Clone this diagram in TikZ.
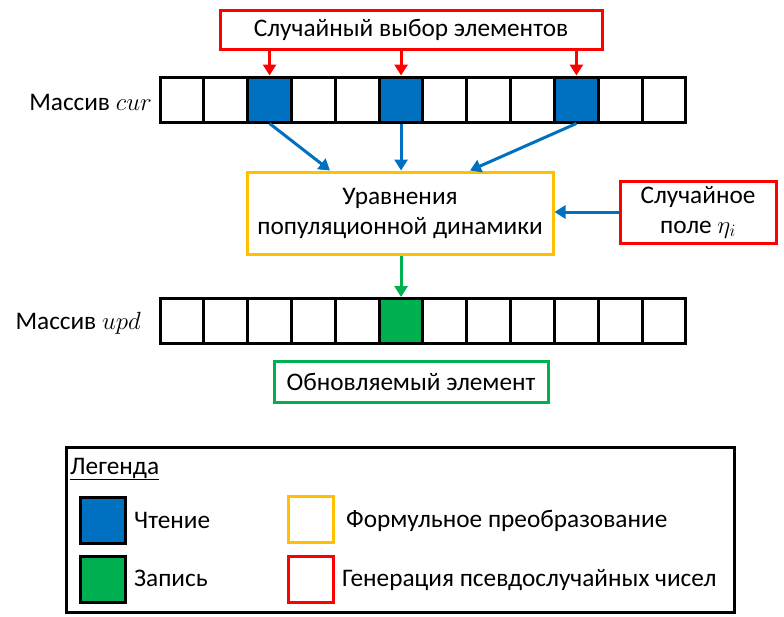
\documentclass[tikz,border=0pt]{standalone}
\usepackage{fontspec}
\setmainfont{Carlito}
\usetikzlibrary{arrows.meta,calc}
\definecolor{cblue}{HTML}{0070C0}
\definecolor{cgreen}{HTML}{00B050}
\definecolor{cred}{HTML}{FF0000}
\definecolor{cyellow}{HTML}{FFC000}
\tikzset{
  cell/.style={draw=black, line width=3pt, minimum width=43.83pt, minimum height=45pt, inner sep=0pt, fill=white},
  boxr/.style={draw=cred, line width=3pt, inner sep=0pt, fill=white, align=center},
  boxy/.style={draw=cyellow, line width=3pt, inner sep=0pt, fill=white, align=center},
  boxg/.style={draw=cgreen, line width=3pt, inner sep=0pt, fill=white, align=center},
  txt/.style={font=\fontsize{25.3}{30}\selectfont},
  arr/.style={line width=3pt, -{Triangle[length=11pt,width=13pt]}},
  leg/.style={line width=3pt, minimum width=45pt, minimum height=46pt, inner sep=0pt},
}
\begin{document}
\begin{tikzpicture}[x=1pt,y=-1pt]
\useasboundingbox (0,0) rectangle (784,616);
% top selection box
\node[boxr, txt, minimum width=382pt, minimum height=39pt] (sel) at (411,29.5) {Случайный выбор элементов};
% arrays
\foreach \i in {1,...,12} {
  \node[cell] (cur\i) at ({160+43.83*(\i-0.5)},99.5) {};
  \node[cell] (upd\i) at ({160+43.83*(\i-0.5)},321) {};
}
\foreach \i in {3,6,10} { \node[cell, fill=cblue] at (cur\i) {}; }
\node[cell, fill=cgreen] at (upd6) {};
\node[txt, anchor=east, inner sep=0pt] (lcur) at (152,102) {Массив $cur$};
\node[txt, anchor=east, inner sep=0pt] (lupd) at (141,323) {Массив $upd$};
% equation box
\node[boxy, txt, minimum width=306pt, minimum height=82pt] (eq) at (400,213) {Уравнения\\популяционной динамики};
\node[boxr, txt, minimum width=156pt, minimum height=62pt] (rnd) at (698,212) {Случайное\\поле $\eta_i$};
\node[boxg, txt, minimum width=274pt, minimum height=41pt] (upde) at (411,381.5) {Обновляемый элемент};
% arrows
\foreach \i in {3,6,10} { \draw[arr, cred] (sel.south -| cur\i) -- (cur\i.north); }
\draw[arr, cblue] (cur3.south) -- ([xshift=-70pt]eq.north);
\draw[arr, cblue] (cur6.south) -- (cur6.south |- eq.north);
\draw[arr, cblue] (cur10.south) -- ([xshift=70pt]eq.north);
\draw[arr, cblue] (rnd.west) -- (eq.east |- rnd.west);
\draw[arr, cgreen] (eq.south -| upd6) -- (upd6.north);
% legend
\node[draw=black, line width=3pt, minimum width=668pt, minimum height=165pt, inner sep=0pt] (legend) at (400,529.5) {};
\node[txt, anchor=west, inner sep=0pt] (ltitle) at (70,469) {\underline{Легенда}};
\node[leg, draw=black, fill=cblue] (lb) at (102.5,520) {};
\node[txt, anchor=west, inner sep=0pt] (lbt) at (134,520) {Чтение};
\node[leg, draw=black, fill=cgreen] (lg) at (102.5,579) {};
\node[txt, anchor=west, inner sep=0pt] (lgt) at (134,578) {Запись};
\node[leg, draw=cyellow] (ly) at (310.5,519.5) {};
\node[txt, anchor=west, inner sep=0pt] (lyt) at (346,521) {Формульное преобразование};
\node[leg, draw=cred] (lr) at (310.5,579.5) {};
\node[txt, anchor=west, inner sep=0pt] (lrt) at (342,580) {Генерация псевдослучайных чисел};
\end{tikzpicture}
\end{document}
